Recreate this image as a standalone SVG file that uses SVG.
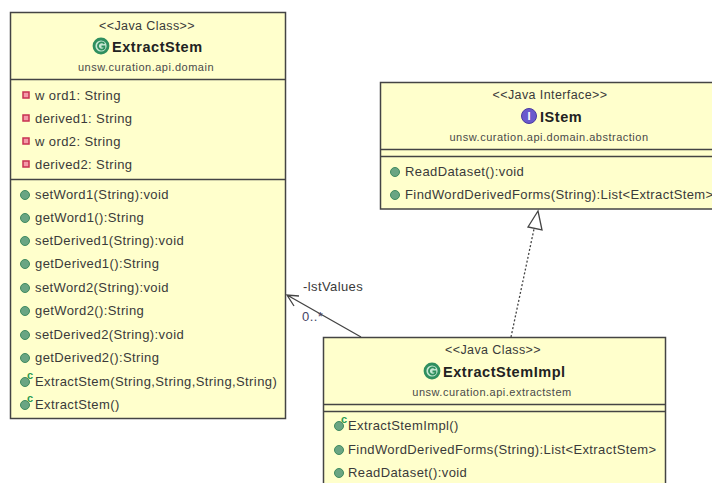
<svg xmlns="http://www.w3.org/2000/svg" width="712" height="483" viewBox="0 0 712 483">
<style>
text{font-family:"Liberation Sans",Arial,sans-serif;fill:#3a3a3a;font-size:13px;letter-spacing:.4px}
.c{text-anchor:middle}
.s{font-size:12.5px}
.p{font-size:11px;fill:#4a4a4a;letter-spacing:.5px}
.t{font-size:14.5px;font-weight:bold;fill:#222;letter-spacing:.55px}
.box{fill:#ffffcc;stroke:#444;stroke-width:1.5}
.div{stroke:#444;stroke-width:1.5;fill:none}
.m{fill:#6aa583;stroke:#3f8a60;stroke-width:1}
.f{fill:#f49aa8;stroke:#c83050;stroke-width:1.5}
.k{font-size:11px;font-weight:bold;fill:#2a9a50;letter-spacing:0}
</style>
<defs>
<g id="pub"><circle r="4.500" class="m"/></g>
<g id="ctor"><circle r="4.500" class="m"/><text x="2" y="-3" class="k">c</text></g>
<g id="priv"><rect x="-3" y="-3" width="6" height="6" class="f"/></g>
<g id="cls"><circle r="7" fill="#c8e8d4" stroke="#2f8f5f" stroke-width="2.800"/><path d="M3.400-2.200A3.600 3.600 0 1 0 3.400 2.200V0.500H0.500" fill="none" stroke="#2f8f5f" stroke-width="1.800"/></g>
</defs>
<rect width="712" height="483" fill="#fff"/>
<g id="connectors" fill="none" stroke="#444">
<path id="assoc" d="M361 337L287 295M299 296L287 295L294 306" stroke-width="1.300"/>
<path id="realize" d="M511 337L534 229" stroke-width="1.300" stroke-dasharray="2 2"/>
<path id="realize-head" d="M538 211L528 227L542 230Z" fill="#fff" stroke-width="1.300"/>
<text x="303" y="291" stroke="none">-lstValues</text>
<text x="302" y="321" stroke="none" style="fill:#446">0..*</text>
</g>
<g id="ExtractStem">
<rect class="box" x="10.500" y="12.500" width="275" height="406"/>
<path class="div" d="M10 79.500H285M10 179.500H285"/>
<text class="s c" x="147" y="30">&lt;&lt;Java Class&gt;&gt;</text>
<use href="#cls" x="101" y="46"/>
<text class="t" x="112" y="52">ExtractStem</text>
<text class="p c" x="146" y="71">unsw.curation.api.domain</text>
<use href="#priv" x="26" y="95"/><text x="35" y="100">w ord1: String</text>
<use href="#priv" x="26" y="118"/><text x="35" y="123">derived1: String</text>
<use href="#priv" x="26" y="141"/><text x="35" y="146">w ord2: String</text>
<use href="#priv" x="26" y="164"/><text x="35" y="169">derived2: String</text>
<use href="#pub" x="25" y="195"/><text x="35" y="199">setWord1(String):void</text>
<use href="#pub" x="25" y="218"/><text x="35" y="222">getWord1():String</text>
<use href="#pub" x="25" y="241"/><text x="35" y="245">setDerived1(String):void</text>
<use href="#pub" x="25" y="264"/><text x="35" y="268">getDerived1():String</text>
<use href="#pub" x="25" y="288"/><text x="35" y="292">setWord2(String):void</text>
<use href="#pub" x="25" y="311"/><text x="35" y="315">getWord2():String</text>
<use href="#pub" x="25" y="335"/><text x="35" y="339">setDerived2(String):void</text>
<use href="#pub" x="25" y="358"/><text x="35" y="362">getDerived2():String</text>
<use href="#ctor" x="25" y="382"/><text x="35" y="386">ExtractStem(String,String,String,String)</text>
<use href="#ctor" x="25" y="405"/><text x="35" y="409">ExtractStem()</text>
</g>
<g id="IStem">
<rect class="box" x="380.500" y="82.500" width="340" height="126.500"/>
<path class="div" d="M380 149.500H712M380 156.500H712"/>
<text class="s c" x="550" y="99">&lt;&lt;Java Interface&gt;&gt;</text>
<circle cx="529" cy="116" r="7.500" fill="#6a5acd" stroke="#4a3aa0"/>
<text x="529" y="120" class="c" style="font-size:11px;font-weight:bold;fill:#fff;letter-spacing:0">I</text>
<text class="t" x="540" y="122">IStem</text>
<text class="p c" x="549" y="141">unsw.curation.api.domain.abstraction</text>
<use href="#pub" x="395" y="172"/><text x="405" y="176">ReadDataset():void</text>
<use href="#pub" x="395" y="195"/><text x="405" y="199">FindWordDerivedForms(String):List&lt;ExtractStem&gt;</text>
</g>
<g id="ExtractStemImpl">
<rect class="box" x="323.500" y="337.500" width="342" height="155"/>
<path class="div" d="M323 404.500H665M323 411.500H665"/>
<text class="s c" x="493" y="354">&lt;&lt;Java Class&gt;&gt;</text>
<use href="#cls" x="432" y="371"/>
<text class="t" x="443" y="377">ExtractStemImpl</text>
<text class="p c" x="492" y="396">unsw.curation.api.extractstem</text>
<use href="#ctor" x="339" y="426"/><text x="348" y="430">ExtractStemImpl()</text>
<use href="#pub" x="339" y="450"/><text x="348" y="454">FindWordDerivedForms(String):List&lt;ExtractStem&gt;</text>
<use href="#pub" x="339" y="473"/><text x="348" y="477">ReadDataset():void</text>
</g>
</svg>
